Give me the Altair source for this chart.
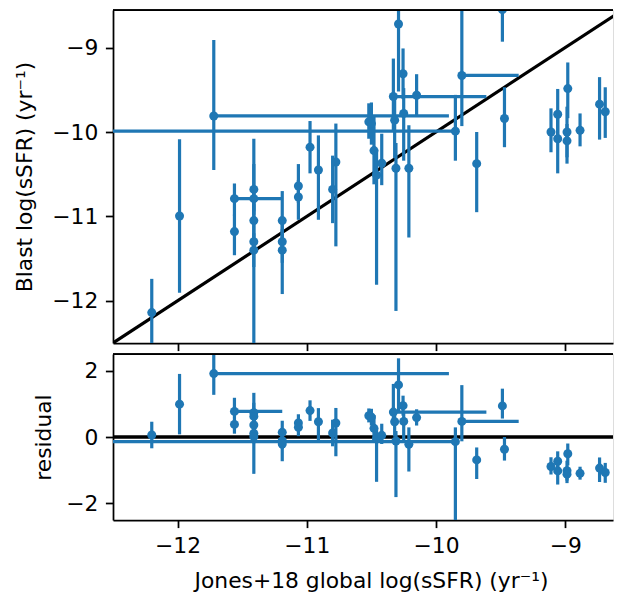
import altair as alt
import pandas as pd
import numpy as np

# Jones+18 global log(sSFR) (x) and Blast log(sSFR) (y)
jones = [-12.20, -11.985, -11.72, -11.56, -11.56, -11.41, -11.41, -11.41, -11.41, -11.41,
         -11.19, -11.19, -11.19, -11.065, -11.065, -10.975, -10.91, -10.775, -10.80,
         -10.52, -10.50, -10.48, -10.46, -10.42, -10.33, -10.32, -10.31, -10.29, -10.255,
         -10.25, -10.21, -10.15, -9.85, -9.80, -9.685, -9.486, -9.47, -9.11, -9.058,
         -9.058, -8.98, -8.986, -8.986, -8.885, -8.734, -8.69]
blast = [-12.14, -10.995, -9.81, -10.79, -11.18, -10.68, -10.79, -11.05, -11.30, -11.40,
         -11.05, -11.30, -11.40, -10.64, -10.77, -10.18, -10.45, -10.355, -10.68,
         -9.88, -9.90, -10.22, -10.51, -10.37, -9.58, -9.86, -10.43, -8.72, -9.31,
         -9.78, -10.43, -9.565, -9.99, -9.33, -10.375, -8.55, -9.84, -10.0, -9.79,
         -10.08, -9.486, -10.0, -10.105, -9.98, -9.67, -9.76]
blast_err_lo = [0.40, 0.91, 0.64, 0.20, 0.28, 0.30, 0.15, 0.20, 1.22, 0.20,
                0.25, 0.25, 0.52, 0.20, 0.27, 0.31, 0.59, 1.00, 0.40,
                0.20, 0.25, 0.40, 1.30, 0.26, 0.40, 0.45, 1.69, 0.80, 0.30,
                0.56, 0.82, 0.24, 0.35, 0.60, 0.575, 0.38, 0.34, 0.24, 0.30,
                0.41, 0.35, 0.30, 0.27, 0.19, 0.42, 0.31]
blast_err_hi = [0.40, 0.91, 0.90, 0.18, 0.20, 0.30, 0.15, 0.20, 1.22, 0.20,
                0.35, 0.25, 0.25, 0.26, 0.20, 0.31, 0.41, 0.455, 0.40,
                0.22, 0.25, 0.40, 0.30, 0.35, 0.45, 0.30, 0.30, 0.80, 0.30,
                0.30, 0.51, 0.25, 0.43, 1.00, 0.375, 0.52, 0.37, 0.28, 0.30,
                0.30, 0.31, 0.30, 0.20, 0.20, 0.32, 0.29]
jones_err_lo = [0, 0, 0, 0, 0, 0, 0, 0, 0, 0,
                0, 0, 0, 0, 0, 0, 0, 0, 0,
                0, 0, 0, 0, 0, 0, 0, 0, 0, 0,
                0, 0, 0, 2.90, 0, 0, 0, 0, 0, 0,
                0, 0, 0, 0, 0, 0, 0]
jones_err_hi = [0, 0, 1.82, 0.37, 0, 0, 0, 0, 0, 0,
                0, 0, 0, 0, 0, 0, 0, 0, 0,
                0, 0, 0, 0, 0, 0.72, 0, 0, 0, 0,
                0, 0, 0, 0, 0.44, 0, 0, 0, 0, 0,
                0, 0, 0, 0, 0, 0, 0]

diag = [-13.0, -8.0]

df = pd.DataFrame({
    "x": jones, "y": blast,
    "ylo_e": blast_err_lo, "yhi_e": blast_err_hi,
    "xlo_e": jones_err_lo, "xhi_e": jones_err_hi,
})
df["ylo"] = df.y - df.ylo_e
df["yhi"] = df.y + df.yhi_e
df["xlo"] = df.x - df.xlo_e
df["xhi"] = df.x + df.xhi_e
df["res"] = df.y - df.x
df["rlo"] = df.res - np.sqrt(df.ylo_e ** 2 + df.xlo_e ** 2)
df["rhi"] = df.res + np.sqrt(df.yhi_e ** 2 + df.xhi_e ** 2)
dfx = df[(df.xlo_e > 0) | (df.xhi_e > 0)]
diag_df = pd.DataFrame({"x": diag, "y": diag})

BLUE = "#1f77b4"
FONT = "DejaVu Sans"
FS = 21.8
W = 500
H1 = 333
H2 = 166
LW = 3.2
AX_LW = 1.75

xscale = alt.Scale(domain=[-12.5, -8.63], nice=False, zero=False)
yscale = alt.Scale(domain=[-12.5, -8.5545], nice=False, zero=False)
rscale = alt.Scale(domain=[-2.5, 2.5], nice=False, zero=False)

axis_common = dict(
    domainColor="black", domainWidth=AX_LW, tickColor="black", tickWidth=AX_LW,
    tickSize=7.6, labelPadding=7.6, labelFont=FONT, labelFontSize=FS,
    labelColor="black", titleFont=FONT, titleFontSize=FS, titleColor="black",
    titleFontWeight="normal", grid=False, format="d",
)

x_top_axis = alt.Axis(values=[-12, -11, -10, -9], labels=False, title=None, **axis_common)
x_bot_axis = alt.Axis(values=[-12, -11, -10, -9], title="Jones+18 global log(sSFR) (yr⁻¹)",
                      titlePadding=13, titleX=258, titleAlign="center", **axis_common)
y_top_axis = alt.Axis(values=[-12, -11, -10, -9], title="Blast log(sSFR) (yr⁻¹)",
                      titleX=-82, titleBaseline="alphabetic", titleAngle=270, **axis_common)
y_bot_axis = alt.Axis(values=[-2, 0, 2], title="residual",
                      titleX=-63, titleBaseline="alphabetic", titleAngle=270, **axis_common)

# ---- top panel ----
base = alt.Chart(df)
diag_line = alt.Chart(diag_df).mark_line(color="black", strokeWidth=LW, clip=True).encode(
    x=alt.X("x:Q", scale=xscale, axis=x_top_axis),
    y=alt.Y("y:Q", scale=yscale, axis=y_top_axis),
)
vbars = base.mark_rule(color=BLUE, strokeWidth=LW, clip=True).encode(
    x=alt.X("x:Q", scale=xscale), y=alt.Y("ylo:Q", scale=yscale), y2="yhi:Q")
hbars = alt.Chart(dfx).mark_rule(color=BLUE, strokeWidth=LW, clip=True).encode(
    x=alt.X("xlo:Q", scale=xscale), x2="xhi:Q", y=alt.Y("y:Q", scale=yscale))
pts = base.mark_circle(color=BLUE, size=81, opacity=1, clip=True).encode(
    x=alt.X("x:Q", scale=xscale), y=alt.Y("y:Q", scale=yscale))
top_border = alt.Chart(diag_df).mark_rule(color="black", strokeWidth=AX_LW).encode(
    x=alt.value(0), x2=alt.value(W), y=alt.value(0))

top = alt.layer(diag_line, vbars, hbars, pts, top_border).properties(width=W, height=H1)

# ---- residual panel ----
zero_line = alt.Chart(diag_df).mark_rule(color="black", strokeWidth=LW).encode(
    y=alt.datum(0, scale=rscale, axis=y_bot_axis))
rv = base.mark_rule(color=BLUE, strokeWidth=LW, clip=True).encode(
    x=alt.X("x:Q", scale=xscale, axis=x_bot_axis),
    y=alt.Y("rlo:Q", scale=rscale, axis=y_bot_axis), y2="rhi:Q")
rh = alt.Chart(dfx).mark_rule(color=BLUE, strokeWidth=LW, clip=True).encode(
    x=alt.X("xlo:Q", scale=xscale), x2="xhi:Q", y=alt.Y("res:Q", scale=rscale))
rp = base.mark_circle(color=BLUE, size=81, opacity=1, clip=True).encode(
    x=alt.X("x:Q", scale=xscale), y=alt.Y("res:Q", scale=rscale))
bot_border = alt.Chart(diag_df).mark_rule(color="black", strokeWidth=AX_LW).encode(
    x=alt.value(0), x2=alt.value(W), y=alt.value(0))

bottom = alt.layer(zero_line, rv, rh, rp, bot_border).properties(width=W, height=H2)

chart = alt.vconcat(top, bottom, spacing=0).properties(
    padding={"left": 5, "top": 0, "right": 0, "bottom": 0}
).configure_view(stroke=None).configure(background="white")

chart.save("out.html", embed_options={"renderer": "svg", "actions": False})
